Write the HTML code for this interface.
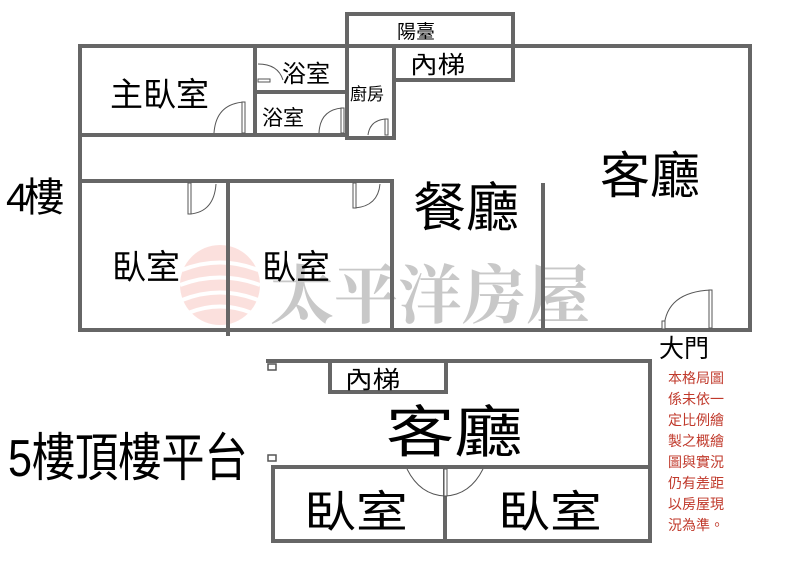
<!DOCTYPE html>
<html><head><meta charset="utf-8"><style>
html,body{margin:0;padding:0;background:#fff;}
svg{display:block;}
text{font-family:"Liberation Sans","Noto Sans CJK TC",sans-serif;fill:#000;}
</style></head><body>
<svg width="800" height="576" viewBox="0 0 800 576" xmlns="http://www.w3.org/2000/svg">
<g opacity="0.35">
<circle cx="220" cy="285" r="40" fill="#f4a9a0"/>
<path d="M182 270 Q220 255 258 270 M180 285 Q220 270 260 285 M182 300 Q220 285 258 300 M188 313 Q220 300 252 313" stroke="#fff" stroke-width="4" fill="none"/>
</g>
<text x="270" y="318" font-size="64" style="fill:#c8c8c8;font-family:'Noto Serif CJK SC',serif" font-weight="bold">太平洋房屋</text>

<g stroke="#666" stroke-width="4" fill="none" stroke-linecap="square">
<path d="M80 46 H750 V330 H80 Z"/>
<path d="M80 135 H255 V46"/>
<path d="M258 92 H345"/>
<path d="M258 135 H347"/>
<path d="M347 14 V138 H394 V46"/>
<path d="M347 14 H513 V80 H398"/>
<path d="M80 181 H392 V330"/>
<path d="M228 181 V334"/>
<path d="M543 185 V330"/>
<path d="M268 361 H650 V541 H273 V467 H650"/>
<path d="M330 361 V392 H446 V361"/>
<path d="M445 467 V541"/>
</g>
<g stroke="#555" stroke-width="1" fill="#fff">
<path d="M258 64 Q278 64 283 80" fill="none"/>
<rect x="258" y="79" width="12" height="3"/>
<path d="M214 133 Q216 104 244 102" fill="none"/><rect x="242" y="102" width="3" height="31"/>
<path d="M319 133 Q320 110 342 108" fill="none"/><rect x="341" y="108" width="3" height="25"/>
<path d="M368 135 Q370 120 386 119" fill="none"/><rect x="385" y="119" width="3" height="16"/>
<path d="M190 214 Q214 212 216 184" fill="none"/><rect x="188" y="183" width="3" height="31"/>
<path d="M355 208 Q378 206 380 184" fill="none"/><rect x="353" y="183" width="3" height="25"/>
<path d="M664 328 Q666 292 711 290" fill="none"/><rect x="709" y="290" width="3" height="38"/>
<rect x="662" y="321" width="3" height="8"/>
<path d="M407 469 Q420 495 445 496 Q470 495 483 469" fill="none"/>
<rect x="444" y="469" width="3" height="27"/>
<rect x="268" y="364" width="8" height="6" stroke-width="1.5"/>
<rect x="268" y="455" width="8" height="6" stroke-width="1.5"/>
</g>

<text x="110" y="106" font-size="33">主臥室</text>
<text x="282" y="82" font-size="24">浴室</text>
<text x="262" y="125" font-size="21">浴室</text>
<text x="350" y="100" font-size="17">廚房</text>
<text x="397" y="38" font-size="19">陽臺</text>
<text x="410" y="73" font-size="24" transform="translate(410 0) scale(1.15 1) translate(-410 0)">內梯</text>
<text x="6" y="211" font-size="40" letter-spacing="-4">4樓</text>
<text x="413" y="226" font-size="53">餐廳</text>
<text x="600" y="193" font-size="50">客廳</text>
<text x="112" y="279" font-size="34">臥室</text>
<text x="262" y="279" font-size="34">臥室</text>
<text x="659" y="357" font-size="25">大門</text>

<text x="345" y="388" font-size="24" transform="translate(345 0) scale(1.15 1) translate(-345 0)">內梯</text>
<text x="386" y="452" font-size="56" transform="translate(386 0) scale(1.22 1) translate(-386 0)">客廳</text>
<text x="304" y="527" font-size="44" transform="translate(304 0) scale(1.18 1) translate(-304 0)">臥室</text>
<text x="498" y="527" font-size="44" transform="translate(498 0) scale(1.18 1) translate(-498 0)">臥室</text>
<text x="8" y="476" font-size="52" transform="translate(8 0) scale(0.83 1) translate(-8 0)">5樓頂樓平台</text>

<g font-size="14">
<text x="668" y="383" style="fill:#c0392b">本格局圖</text>
<text x="668" y="404" style="fill:#c0392b">係未依一</text>
<text x="668" y="425" style="fill:#c0392b">定比例繪</text>
<text x="668" y="446" style="fill:#c0392b">製之概繪</text>
<text x="668" y="467" style="fill:#c0392b">圖與實況</text>
<text x="668" y="488" style="fill:#c0392b">仍有差距</text>
<text x="668" y="509" style="fill:#c0392b">以房屋現</text>
<text x="668" y="530" style="fill:#c0392b">況為準。</text>
</g>
</svg>
</body></html>
